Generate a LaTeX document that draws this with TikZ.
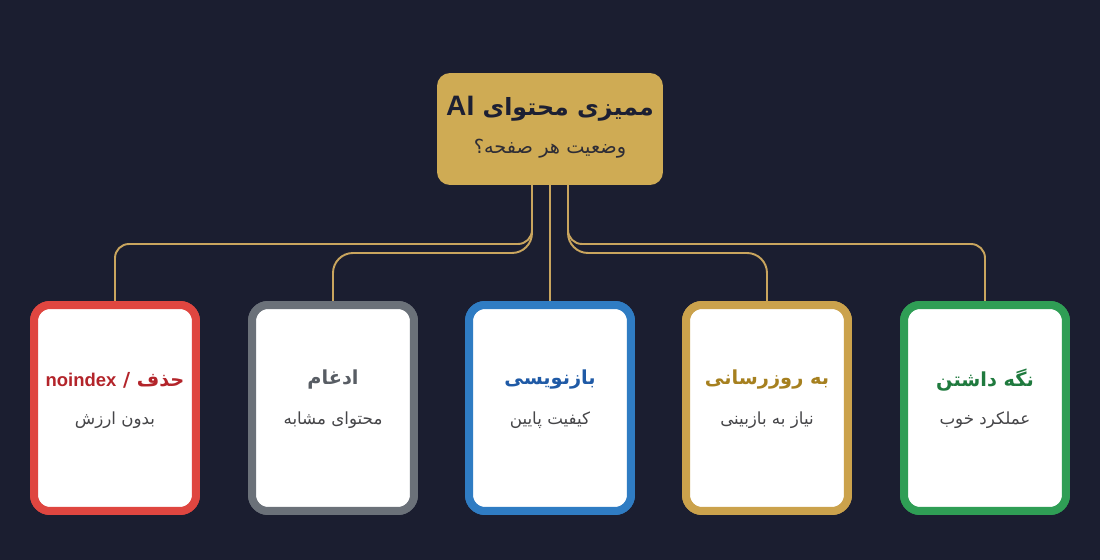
\documentclass[tikz,border=0pt]{standalone}
\usepackage{fontspec}
\newfontfamily\fa[Script=Arabic]{DejaVu Sans}
\newfontfamily\la{Liberation Sans}
\TeXXeTstate=1
\definecolor{bg}{HTML}{1B1E30}
\definecolor{gold}{HTML}{CFAB54}
\definecolor{linegold}{HTML}{C9A55E}
\definecolor{navy}{HTML}{1C1F33}
\definecolor{subtxt}{HTML}{454548}
\definecolor{redB}{HTML}{DF4640}\definecolor{redT}{HTML}{B3242A}
\definecolor{grayB}{HTML}{6B7179}\definecolor{grayT}{HTML}{585D64}
\definecolor{blueB}{HTML}{2F7CC3}\definecolor{blueT}{HTML}{1F5AA6}
\definecolor{goldB}{HTML}{CBA24C}\definecolor{goldT}{HTML}{A6801F}
\definecolor{greenB}{HTML}{2F9E55}\definecolor{greenT}{HTML}{1F7A3E}
\tikzset{
  card/.style={draw=#1, line width=4.55pt, fill=white, rounded corners=0.32cm,
    minimum width=3.24cm, minimum height=4.12cm, inner sep=0pt},
  rootbox/.style={fill=gold, rounded corners=0.26cm, minimum width=4.52cm,
    minimum height=2.24cm, inner sep=0pt},
  ctitle/.style={text=#1, font=\fa\bfseries\fontsize{11}{13}\selectfont, inner sep=0pt},
  csub/.style={text=subtxt, font=\fa\fontsize{9.5}{12}\selectfont, inner sep=0pt},
  conn/.style={draw=linegold, line width=1.1pt},
}
\begin{document}
\begin{tikzpicture}[x=0.02cm,y=-0.02cm]
\fill[bg] (0,0) rectangle (1100,560);
\useasboundingbox (0,0) rectangle (1100,560);
% root
\node[rootbox] (root) at (550,129) {};
\node[text=navy, font=\fa\bfseries\fontsize{13.5}{18}\selectfont, inner sep=0pt] (rt) at (550,109) {\beginR ممیزی محتوای \beginL{\la\fontsize{16}{18}\selectfont\bfseries AI}\endL\endR};
\node[text=navy!90!gold, font=\fa\fontsize{11}{13}\selectfont, inner sep=0pt] (rs) at (550,149) {\beginR وضعیت هر صفحه؟\endR};
% anchors
\coordinate (rL) at (532,185);
\coordinate (rC) at (550,185);
\coordinate (rR) at (568,185);
\coordinate (lv1) at (0,244);
\coordinate (lv2) at (0,253);
% cards
\coordinate (p1) at (115,408);
\coordinate (p2) at (333,408);
\coordinate (p3) at (550,408);
\coordinate (p4) at (767,408);
\coordinate (p5) at (985,408);
\path (p1) node[card=redB] (c1) {};
\path (p2) node[card=grayB] (c2) {};
\path (p3) node[card=blueB] (c3) {};
\path (p4) node[card=goldB] (c4) {};
\path (p5) node[card=greenB] (c5) {};
% connectors
\draw[conn, rounded corners=0.28cm] (rL) |- (c1.north |- lv1) -- (c1.north);
\draw[conn, rounded corners=0.40cm] (rL) |- (c2.north |- lv2) -- (c2.north);
\draw[conn] (rC) -- (c3.north);
\draw[conn, rounded corners=0.40cm] (rR) |- (c4.north |- lv2) -- (c4.north);
\draw[conn, rounded corners=0.28cm] (rR) |- (c5.north |- lv1) -- (c5.north);
% redraw cards on top
\path (p1) node[card=redB] {};
\path (p2) node[card=grayB] {};
\path (p3) node[card=blueB] {};
\path (p4) node[card=goldB] {};
\path (p5) node[card=greenB] {};
% texts
\node[ctitle=redT] (t1) at (115,380) {\beginR حذف / \beginL{\la\bfseries\fontsize{10.5}{13}\selectfont noindex}\endL\endR};
\node[csub] (s1) at (115,420) {\beginR بدون ارزش\endR};
\node[ctitle=grayT] (t2) at (333,380) {\beginR ادغام\endR};
\node[csub] (s2) at (333,420) {\beginR محتوای مشابه\endR};
\node[ctitle=blueT] (t3) at (550,380) {\beginR بازنویسی\endR};
\node[csub] (s3) at (550,420) {\beginR کیفیت پایین\endR};
\node[ctitle=goldT] (t4) at (767,380) {\beginR به روزرسانی\endR};
\node[csub] (s4) at (767,420) {\beginR نیاز به بازبینی\endR};
\node[ctitle=greenT] (t5) at (985,380) {\beginR نگه داشتن\endR};
\node[csub] (s5) at (985,420) {\beginR عملکرد خوب\endR};
\end{tikzpicture}
\end{document}
